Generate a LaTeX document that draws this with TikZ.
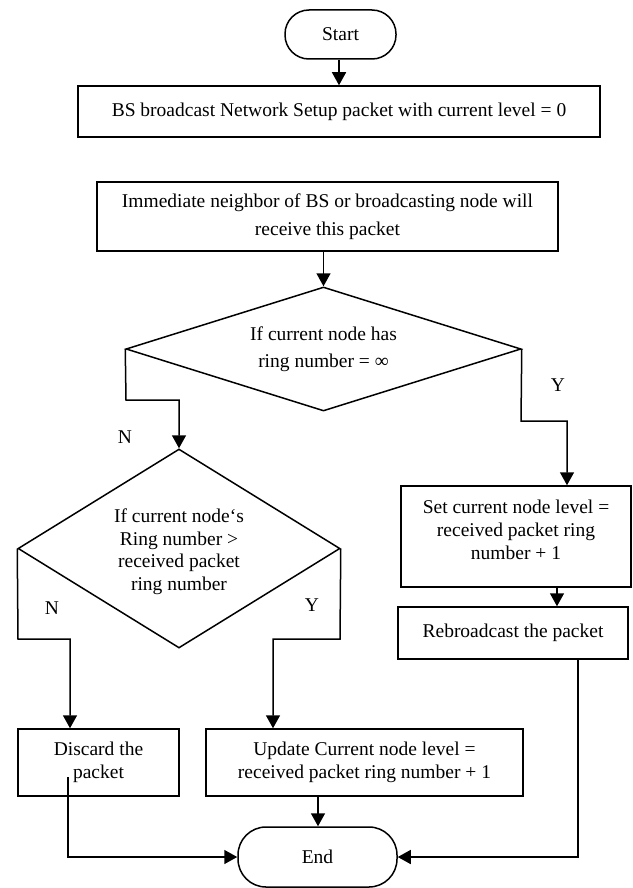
\documentclass[tikz,border=0pt]{standalone}
\usepackage{fontspec}
\setmainfont{Liberation Serif}
\usetikzlibrary{shapes.geometric,arrows.meta}
\begin{document}
\begin{tikzpicture}[x=1pt,y=-1pt,
  every node/.style={font=\fontsize{19.5}{23}\selectfont},
  box/.style={draw,line width=1.5pt,rectangle,inner sep=0pt,align=center},
  term/.style={draw,line width=1.5pt,rectangle,rounded corners=24pt,inner sep=0pt},
  dec/.style={draw,line width=1.5pt,diamond,inner sep=0pt,align=center},
  lbl/.style={inner sep=0pt},
  arr/.style={line width=1.5pt,-{Triangle[length=13pt,width=14pt]}}]
\useasboundingbox (0,0) rectangle (632,888);
\node[term,minimum width=111pt,minimum height=49pt] (start) at (340.5,34.5) {Start};
\node[box,minimum width=522pt,minimum height=51pt] (bs) at (339,111.5) {BS broadcast Network Setup packet with current level = 0};
\node[box,minimum width=461pt,minimum height=69pt,font=\fontsize{19.5}{28}\selectfont] (imm) at (327.5,216.5) {Immediate neighbor of BS or broadcasting node will\\receive this packet};
\node[dec,minimum width=395pt,minimum height=124pt,aspect=3.2,font=\fontsize{19.5}{27}\selectfont] (d1) at (323.5,349) {If current node has\\ring number = ∞};
\node[dec,minimum width=322pt,minimum height=199pt,aspect=1.6] (d2) at (179,548.5) {};
\node[lbl,align=center,font=\fontsize{19.5}{22.5}\selectfont] (d2text) at (179,551.5) {If current node‘s\\Ring number >\\received packet\\ring number};
\node[box,minimum width=230pt,minimum height=101pt] (set) at (516,536.5) {};
\node[lbl,align=center] (settext) at (516,530) {Set current node level =\\received packet ring\\number + 1};
\node[box,minimum width=230pt,minimum height=52pt] (reb) at (513,633) {Rebroadcast the packet};
\node[box,minimum width=161pt,minimum height=67pt] (discard) at (98.5,762.5) {Discard the\\packet};
\node[box,minimum width=317pt,minimum height=67pt] (update) at (364.5,762.5) {Update Current node level =\\received packet ring number + 1};
\node[term,rounded corners=28pt,minimum width=159pt,minimum height=60pt] (end) at (317.5,857) {End};
\node[lbl] (n1) at (125,437) {N};
\node[lbl] (y1) at (558,385) {Y};
\node[lbl] (n2) at (52,608) {N};
\node[lbl] (y2) at (312,605) {Y};
\coordinate (j1) at (126,400);
\coordinate (j2) at (521,421);
\coordinate (j2b) at (567,421);
\coordinate (x3) at (557,0);
\coordinate (j3) at (18,639);
\coordinate (x4) at (70,0);
\coordinate (j4) at (340,639);
\coordinate (x5) at (273,0);
\coordinate (x6) at (318,0);
\coordinate (ds) at (68,777);
\coordinate (x7) at (578,0);
\draw[arr] (start.south -| bs.north) -- (bs.north);
\draw[arr] (d1.north |- imm.south) -- (d1.north);
\draw[arr] (d1.west) -- (j1) -| (d2.north);
\draw[arr] (d1.east) -- (j2) -- (j2b) -- (j2b |- set.north);
\draw[arr] (set.south -| x3) -- (reb.north -| x3);
\draw[arr] (d2.west) -- (j3) -| (discard.north -| x4);
\draw[arr] (d2.east) -- (j4) -| (update.north -| x5);
\draw[arr] (update.south -| x6) -- (end.north -| x6);
\draw[arr] (ds) |- (end.west);
\draw[arr] (reb.south -| x7) |- (end.east);
\end{tikzpicture}
\end{document}
